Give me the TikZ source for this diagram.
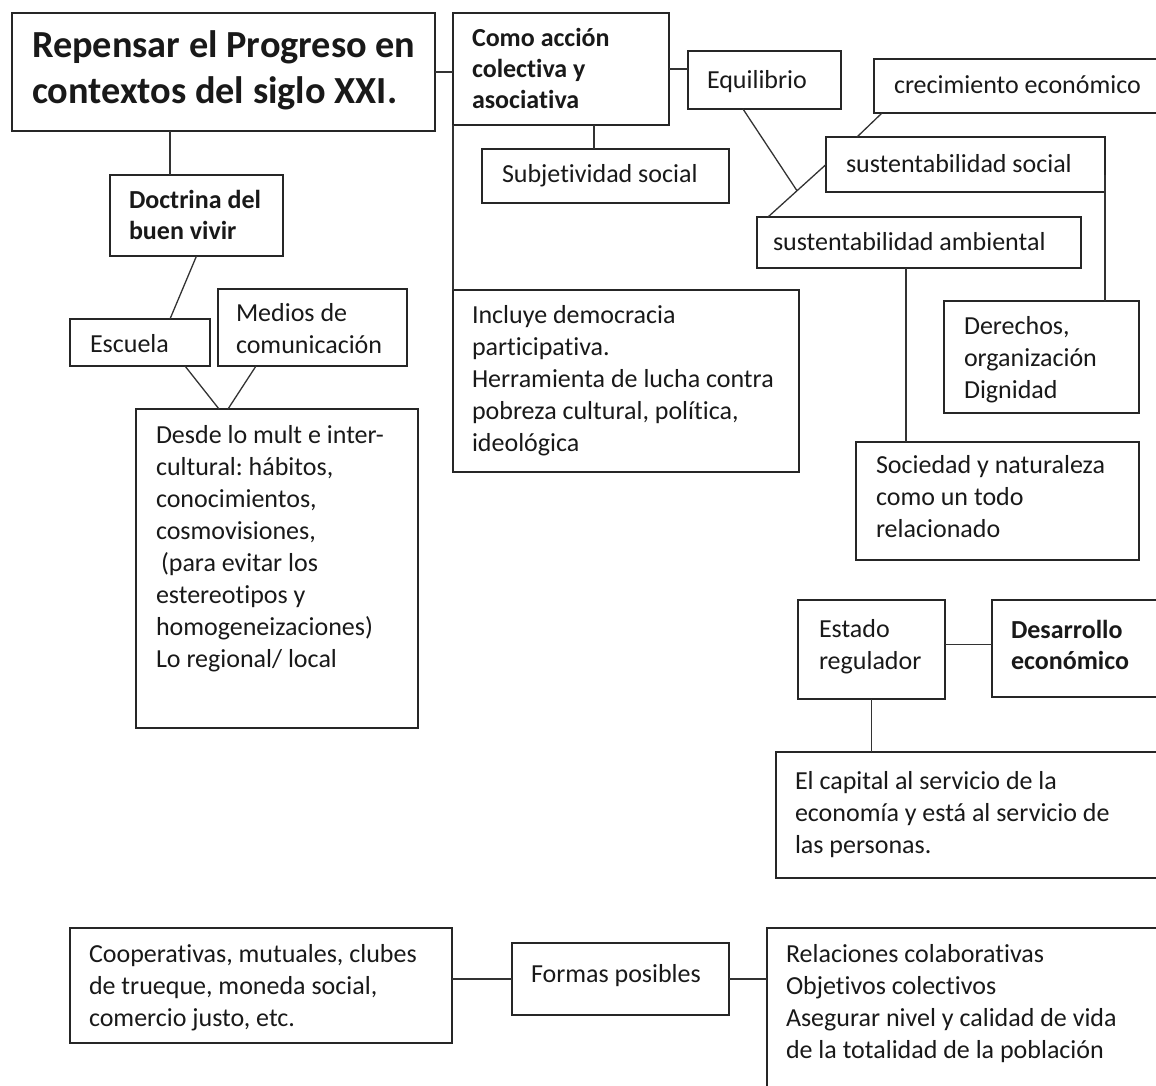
\documentclass[tikz,border=0pt]{standalone}
\usepackage{fontspec}
\setmainfont[Ligatures=CommonOff]{Carlito}
\usetikzlibrary{calc}
\frenchspacing
\tikzset{
  box/.style={draw=black!85, line width=1.4pt, rectangle, inner sep=0pt, outer sep=0pt, anchor=north west},
  conn/.style={draw=black!80, line width=1.3pt},
  txt/.style={inner sep=0pt, outer sep=0pt, align=left, anchor=base west, text=black!90, font=\fontsize{26}{32}\selectfont},
  btxt/.style={txt, font=\fontsize{26}{31}\selectfont\bfseries},
  ttxt/.style={txt, font=\fontsize{38.3}{46}\selectfont\bfseries}
}
\begin{document}
\begin{tikzpicture}[x=1pt,y=-1pt]
\useasboundingbox (0,0) rectangle (1156,1085);
\clip (0,0) rectangle (1156,1085);
% boxes
\node[box, minimum width=423pt, minimum height=118pt] (title) at (12,13) {};
\node[box, minimum width=216pt, minimum height=112pt] (como) at (453,13) {};
\node[box, minimum width=153pt, minimum height=58pt] (equi) at (688,51) {};
\node[box, minimum width=300pt, minimum height=54pt] (crec) at (874,59) {};
\node[box, minimum width=247pt, minimum height=54pt] (subj) at (482,149) {};
\node[box, minimum width=279pt, minimum height=55pt] (socs) at (826,137) {};
\node[box, minimum width=324pt, minimum height=51pt] (amb) at (757,217) {};
\node[box, minimum width=173pt, minimum height=81pt] (doc) at (110,175) {};
\node[box, minimum width=140pt, minimum height=47pt] (esc) at (70,319) {};
\node[box, minimum width=189pt, minimum height=77pt] (med) at (218,289) {};
\node[box, minimum width=282pt, minimum height=319pt] (desde) at (136,409) {};
\node[box, minimum width=346pt, minimum height=182pt] (incl) at (453,290) {};
\node[box, minimum width=195pt, minimum height=112pt] (der) at (944,301) {};
\node[box, minimum width=283pt, minimum height=118pt] (soc) at (856,442) {};
\node[box, minimum width=147pt, minimum height=99pt] (est) at (798,600) {};
\node[box, minimum width=180pt, minimum height=97pt] (des) at (992,600) {};
\node[box, minimum width=400pt, minimum height=126pt] (cap) at (776,752) {};
\node[box, minimum width=382pt, minimum height=115pt] (coop) at (70,928) {};
\node[box, minimum width=217pt, minimum height=72pt] (formas) at (512,943) {};
\node[box, minimum width=410pt, minimum height=180pt] (rel) at (767,928) {};
% texts (anchored at the baseline of their last line)
\node[ttxt] (title-t) at (32,103) {Repensar el Progreso en\\contextos del siglo XXI.};
\node[btxt] (como-t) at (472,108) {Como acción\\colectiva y\\asociativa};
\node[txt] (equi-t) at (707,88) {Equilibrio};
\node[txt] (crec-t) at (894,93) {crecimiento económico};
\node[txt] (subj-t) at (502,182) {Subjetividad social};
\node[txt] (socs-t) at (846,172) {sustentabilidad social};
\node[txt] (amb-t) at (773,250) {sustentabilidad ambiental};
\node[btxt] (doc-t) at (129,239) {Doctrina del\\buen vivir};
\node[txt] (esc-t) at (90,352) {Escuela};
\node[txt] (med-t) at (236,353) {Medios de\\comunicación};
\node[txt] (desde-t) at (156,667) {Desde lo mult e inter-\\cultural: hábitos,\\conocimientos,\\cosmovisiones,\\\hspace*{5pt}(para evitar los\\estereotipos y\\homogeneizaciones)\\Lo regional/ local};
\node[txt] (incl-t) at (472,451) {Incluye democracia\\participativa.\\Herramienta de lucha contra\\pobreza cultural, política,\\ideológica};
\node[txt] (der-t) at (964,398) {Derechos,\\organización\\Dignidad};
\node[txt] (soc-t) at (876,537) {Sociedad y naturaleza\\como un todo\\relacionado};
\node[txt] (est-t) at (819,669) {Estado\\regulador};
\node[btxt] (des-t) at (1011,669) {Desarrollo\\económico};
\node[txt] (cap-t) at (795,853) {El capital al servicio de la\\economía y está al servicio de\\las personas.};
\node[txt] (coop-t) at (89,1026) {Cooperativas, mutuales, clubes\\de trueque, moneda social,\\comercio justo, etc.};
\node[txt] (formas-t) at (531,982) {Formas posibles};
\node[txt] (rel-t) at (786,1058) {Relaciones colaborativas\\Objetivos colectivos\\Asegurar nivel y calidad de vida\\de la totalidad de la población};
% connectors
\draw[conn] (title.east) -- (title.east -| como.west);
\draw[conn] (como.south west) -- (incl.north west);
\draw[conn] ([xshift=112pt]subj.north west) -- ([xshift=112pt]subj.north west |- como.south);
\draw[conn] (como.east) -- (como.east -| equi.west);
\coordinate (ambtop) at ([xshift=11pt]amb.north west);
\coordinate (cross) at ($(socs.west)!0.5!(ambtop)$);
\draw[conn] (socs.west) -- (ambtop);
\draw[conn] ([xshift=55pt]equi.south west) -- (cross);
\draw[conn] ([xshift=8pt]crec.south west) -- ([xshift=31pt]socs.north west);
\draw[conn] ([yshift=-10pt]socs.east) -- (socs.east |- der.north);
\draw[conn] ([xshift=149pt]amb.south west) -- ([xshift=149pt]amb.south west |- soc.north);
\draw[conn] ([xshift=60pt]doc.north west) -- ([xshift=60pt]doc.north west |- title.south);
\draw[conn] (doc.south) -- ([xshift=100pt]esc.north west);
\draw[conn] ([xshift=115pt]esc.south west) -- ([xshift=83pt]desde.north west);
\draw[conn] ([xshift=38pt]med.south west) -- ([xshift=92pt]desde.north west);
\draw[conn] ([yshift=5pt]est.east) -- ([yshift=5pt]est.east -| des.west);
\draw[conn] (est.south) -- (est.south |- cap.north);
\draw[conn] (formas.west) -- (formas.west -| coop.east);
\draw[conn] (formas.east) -- (formas.east -| rel.west);
\end{tikzpicture}
\end{document}
